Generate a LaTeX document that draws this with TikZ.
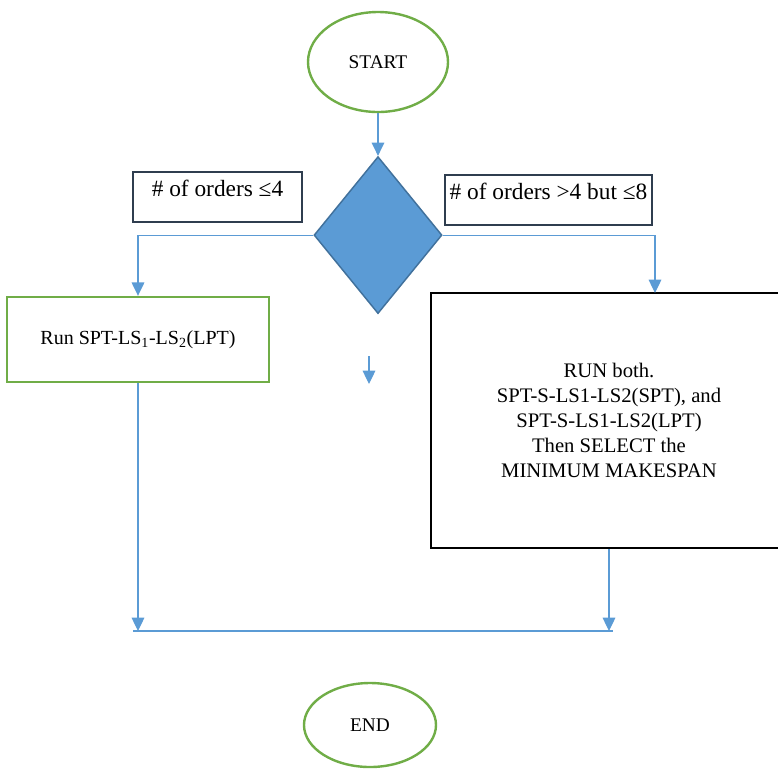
\documentclass[tikz,border=0pt]{standalone}
\usepackage{fontspec}
\setmainfont{Liberation Serif}
\usetikzlibrary{arrows.meta,positioning,shapes.geometric}
\definecolor{flowblue}{HTML}{5B9BD5}
\definecolor{darkblue}{HTML}{41719C}
\definecolor{boxgreen}{HTML}{70AD47}
\definecolor{slate}{HTML}{2F3D4F}

\begin{document}
\begin{tikzpicture}[x=0.75pt,y=-0.75pt]
	\tikzstyle{terminal}
	  =[draw=boxgreen, line width=1.8pt, ellipse, inner sep=0pt,
	  font=\fontsize{14.5}{17}\selectfont]
	\tikzstyle{decision}
	  =[draw=darkblue, fill=flowblue, line width=1.1pt, diamond,
	  inner sep=0pt, minimum width=96pt, minimum height=117.75pt]
	\tikzstyle{cond}
	  =[draw=slate, line width=1.1pt, rectangle, minimum height=37.5pt,
	  text height=12pt, text depth=13pt, font=\fontsize{17.5}{20}\selectfont]
	\tikzstyle{flow}
	  =[draw=flowblue, line width=0.9pt]
	\tikzstyle{flowarrow}
	  =[flow, -{Triangle[width=9.5pt,length=10pt]}]

	\useasboundingbox (0,0) rectangle (778,769);

	\node[terminal, minimum width=105pt, minimum height=75pt] (start)
	  at (378,62) {START};
	\node[decision] (dec)
	  [below=32pt of start] {};
	\node[cond, minimum width=126.75pt] (condA)
	  at (217.5,197) {\# of orders ≤4};
	\node[cond, minimum width=153.75pt] (condB)
	  at (548.5,200) {\# of orders >4 but ≤8};

	\node[draw=boxgreen, line width=1.8pt, rectangle, minimum width=196.5pt,
	  minimum height=63.75pt, font=\fontsize{15}{18}\selectfont] (runA)
	  at (138,339.5) {Run SPT-LS\textsubscript{1}-LS\textsubscript{2}(LPT)};
	\node[draw=black, line width=2.2pt, rectangle, minimum width=267pt,
	  minimum height=191.25pt, align=center,
	  font=\fontsize{15.5}{18.75}\selectfont] (runB)
	  at (609,420.5) {RUN both.\\SPT-S-LS1-LS2(SPT), and\\SPT-S-LS1-LS2(LPT)\\
	  Then SELECT the\\MINIMUM MAKESPAN};

	\node[terminal, minimum width=99pt, minimum height=63pt] (stop)
	  at (370,725) {END};

	\coordinate (inB) at (655,293);
	\coordinate (joinL) at (133,631);
	\coordinate (joinR) at (613,631);
	\coordinate (strayA) at (369,356);
	\coordinate (strayB) at (369,384);

	\draw[flowarrow] (start)--(dec);
	\draw[flowarrow] (dec.west) -| (runA.north);
	\draw[flowarrow] (dec.east) -| (inB);
	\draw[flowarrow] (runA.south)--(runA.south |- joinL);
	\draw[flowarrow] (runB.south)--(runB.south |- joinR);
	\draw[flow] (joinL)--(joinR);
	\draw[flowarrow] (strayA)--(strayB);
\end{tikzpicture}
\end{document}
